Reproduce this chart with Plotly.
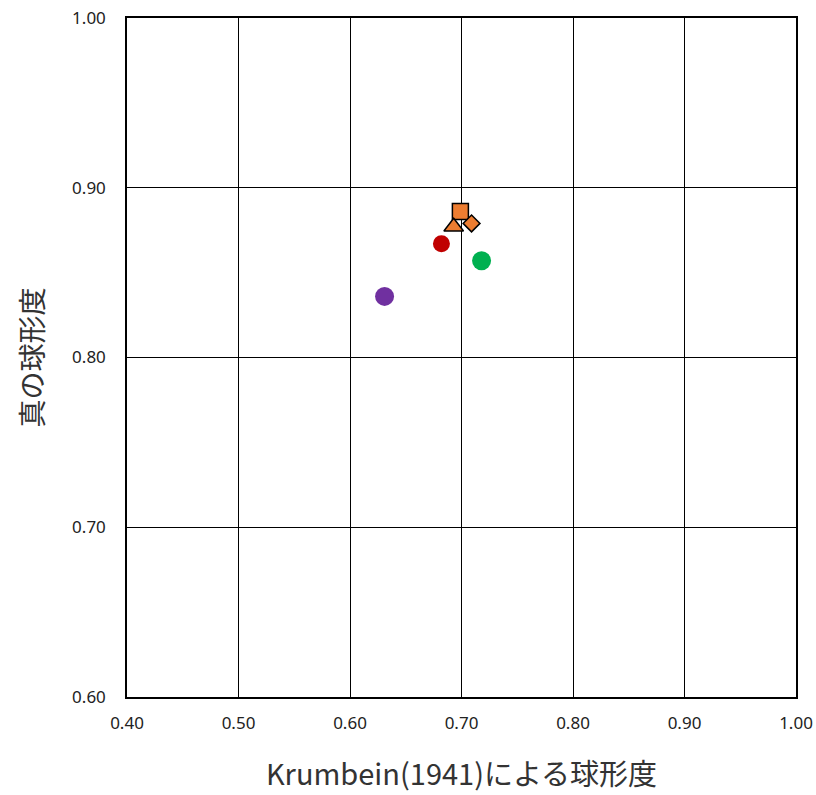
import plotly.graph_objects as go

# Data
series_names = ["A", "B", "C", "D", "E", "F"]
x_vals = [0.699, 0.693, 0.709, 0.682, 0.718, 0.631]
y_vals = [0.886, 0.877, 0.879, 0.867, 0.857, 0.836]
symbols = ["square", "triangle-up", "diamond", "circle", "circle", "circle"]
colors = ["#ED7D31", "#ED7D31", "#ED7D31", "#C00000", "#00B050", "#7030A0"]
outlined = [True, True, True, False, False, False]
sizes = [16, 17, 13, 17, 19, 19]

x_ticks = [0.40, 0.50, 0.60, 0.70, 0.80, 0.90, 1.00]
y_ticks = [0.60, 0.70, 0.80, 0.90, 1.00]

fig = go.Figure()
for n, x, y, s, c, o, sz in zip(series_names, x_vals, y_vals, symbols, colors, outlined, sizes):
    fig.add_trace(go.Scatter(
        x=[x], y=[y], mode="markers", name=n,
        marker=dict(symbol=s, color=c, size=sz,
                    line=dict(color="black", width=1.5 if o else 0)),
        showlegend=False, cliponaxis=False))

font_jp = "Noto Sans CJK JP, Noto Sans, sans-serif"
axis_common = dict(showgrid=True, gridcolor="black", gridwidth=1,
                   showline=True, linecolor="black", linewidth=1.5, mirror=True,
                   zeroline=False, ticks="", automargin=False, ticklabeloverflow="allow",
                   tickfont=dict(size=17, color="#222", family="Noto Sans, sans-serif"))
fig.update_layout(
    width=816, height=795,
    margin=dict(l=127, r=20, t=18, b=98),
    plot_bgcolor="white", paper_bgcolor="white",
    xaxis=dict(range=[0.40, 1.00], tickvals=x_ticks, ticktext=[f"{v:.2f}" for v in x_ticks],
               ticklabelstandoff=10,
               title=dict(text="Krumbein(1941)による球形度", font=dict(size=29, color="#333", family=font_jp), standoff=32),
               **axis_common),
    yaxis=dict(range=[0.60, 1.00], tickvals=y_ticks, ticktext=[f"{v:.2f}" for v in y_ticks],
               ticklabelstandoff=16,
               title=dict(text="真の球形度", font=dict(size=28, color="#333", family=font_jp), standoff=20),
               **axis_common),
)
fig.write_html("out.html", config={"displayModeBar": False},
               post_script="document.body.style.margin='0';")
